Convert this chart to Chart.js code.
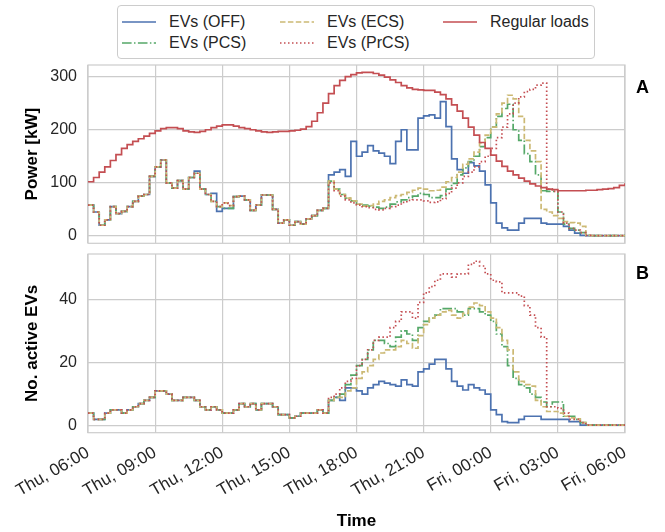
<!DOCTYPE html>
<html>
<head>
<meta charset="utf-8">
<script src="https://cdn.jsdelivr.net/npm/chart.js@4.4.0/dist/chart.umd.min.js"></script>
<style>
  html, body { margin: 0; padding: 0; background: #fff; }
  body { width: 665px; height: 532px; position: relative; overflow: hidden;
         font-family: "Liberation Sans", Arial, sans-serif; color: #262626; }
  #topChart, #bottomChart { position: absolute; left: 0; }
  #topChart { top: 0; }
  #bottomChart { top: 250px; }
  .legend { position: absolute; left: 117px; top: 5px; width: 476px; height: 52px;
            border: 1px solid #cccccc; border-radius: 4px; background: #fff; }
  .item { position: absolute; font-size: 16px; line-height: 20px; white-space: nowrap; }
  .item svg { position: absolute; left: 0; top: 8px; }
  .item span { position: absolute; left: 47px; top: 0; }
  .panel { position: absolute; left: 636px; font-weight: bold; font-size: 18px; line-height: 20px; color: #000; }
</style>
</head>
<body>
<canvas id="topChart" width="665" height="250"></canvas>
<canvas id="bottomChart" width="665" height="282"></canvas>

<div class="legend">
  <div class="item" style="left:4px; top:6px;">
    <svg width="34" height="4"><line x1="0" y1="2" x2="34" y2="2" stroke="#4C72B0" stroke-width="1.7"/></svg>
    <span>EVs (OFF)</span>
  </div>
  <div class="item" style="left:4px; top:27px;">
    <svg width="34" height="4"><line x1="0" y1="2" x2="34" y2="2" stroke="#55A868" stroke-width="1.7" stroke-dasharray="9.6 2.4 1.5 2.4"/></svg>
    <span>EVs (PCS)</span>
  </div>
  <div class="item" style="left:162px; top:6px;">
    <svg width="34" height="4"><line x1="0" y1="2" x2="34" y2="2" stroke="#CCB974" stroke-width="1.7" stroke-dasharray="5.5 2.4"/></svg>
    <span>EVs (ECS)</span>
  </div>
  <div class="item" style="left:162px; top:27px;">
    <svg width="34" height="4"><line x1="0" y1="2" x2="34" y2="2" stroke="#C44E52" stroke-width="1.7" stroke-dasharray="1.5 2.5"/></svg>
    <span>EVs (PrCS)</span>
  </div>
  <div class="item" style="left:325px; top:6px;">
    <svg width="34" height="4"><line x1="0" y1="2" x2="34" y2="2" stroke="#C44E52" stroke-width="1.7"/></svg>
    <span>Regular loads</span>
  </div>
</div>

<div class="panel" style="top:77px;">A</div>
<div class="panel" style="top:263px;">B</div>

<script>
// 15-minute steps from Thu 06:00 (hour 0) to Fri 06:00 (hour 24)
const STEP_H = 0.25;

const timeLabels = ['Thu, 06:00', 'Thu, 09:00', 'Thu, 12:00', 'Thu, 15:00', 'Thu, 18:00',
                    'Thu, 21:00', 'Fri, 00:00', 'Fri, 03:00', 'Fri, 06:00'];
const tickHours = [0, 3, 6, 9, 12, 15, 18, 21, 24];
const powerTicks = [0, 100, 200, 300];
const evTicks = [0, 20, 40];

// Panel A: power [kW]
const powerOff = [
  58, 45, 20, 30, 55, 42, 46, 55, 65, 75, 78, 112,
  130, 143, 100, 90, 104, 88, 110, 122, 88, 78, 80, 46,
  52, 52, 74, 75, 68, 48, 58, 77, 77, 50, 24, 30,
  20, 27, 22, 32, 38, 48, 52, 115, 120, 125, 112, 178,
  150, 158, 170, 160, 156, 150, 136, 178, 200, 162, 162, 222,
  226, 228, 222, 253, 206, 145, 125, 118, 138, 132, 122, 96,
  62, 24, 15, 11, 11, 24, 33, 33, 33, 24, 22, 22,
  22, 18, 11, 5, 1, 0.5, 0.5, 0.5, 0.5, 0.5, 0.5, 0.5,
  0.5
];
const powerPcs = [
  58, 45, 20, 30, 55, 42, 46, 55, 65, 75, 78, 112,
  130, 143, 100, 90, 104, 88, 110, 118, 88, 78, 65, 55,
  52, 52, 74, 75, 68, 48, 58, 77, 77, 50, 24, 30,
  20, 27, 22, 32, 38, 48, 52, 103, 88, 78, 71, 66,
  60, 58, 56, 54, 52, 54, 60, 64, 68, 72, 75, 80,
  78, 72, 72, 76, 88, 99, 115, 128, 140, 150, 168, 185,
  205, 225, 240, 248, 200, 180, 155, 140, 115, 85, 84, 84,
  45, 22, 14, 11, 6, 1, 0.5, 0.5, 0.5, 0.5, 0.5, 0.5,
  0.5
];
const powerEcs = [
  58, 45, 20, 30, 55, 42, 46, 55, 65, 75, 78, 112,
  130, 143, 100, 90, 104, 88, 110, 118, 88, 78, 65, 55,
  62, 57, 74, 75, 68, 48, 58, 77, 77, 50, 24, 30,
  20, 27, 22, 32, 38, 48, 52, 103, 88, 78, 71, 66,
  60, 56, 57, 60, 65, 68, 72, 76, 78, 82, 86, 90,
  88, 85, 86, 92, 102, 110, 120, 135, 145, 158, 175, 190,
  205, 230, 250, 265, 258, 225, 180, 160, 140, 50, 45, 38,
  33, 27, 25, 24, 18, 1, 0.5, 0.5, 0.5, 0.5, 0.5, 0.5,
  0.5
];
const powerPrcs = [
  58, 45, 20, 30, 55, 42, 46, 55, 65, 75, 78, 112,
  130, 143, 100, 90, 104, 88, 110, 118, 88, 78, 65, 55,
  62, 57, 74, 75, 68, 48, 58, 77, 77, 50, 24, 30,
  20, 27, 22, 32, 38, 48, 52, 100, 85, 75, 68, 62,
  58, 55, 53, 50, 49, 52, 55, 58, 63, 67, 68, 68,
  66, 63, 64, 70, 80, 90, 100, 112, 120, 130, 140, 150,
  165, 185, 205, 230, 250, 262, 272, 276, 284, 288, 88, 84,
  45, 24, 14, 11, 6, 1, 0.5, 0.5, 0.5, 0.5, 0.5, 0.5,
  0.5
];
const regularLoads = [
  102, 110, 120, 130, 142, 153, 165, 172, 178, 183, 188, 193,
  198, 202, 204, 204, 202, 198, 196, 195, 197, 200, 204, 207,
  209, 209, 207, 204, 202, 200, 198, 196, 195, 196, 197, 197,
  198, 199, 201, 206, 216, 232, 250, 268, 283, 293, 300, 304,
  307, 308, 308, 306, 303, 299, 294, 289, 283, 279, 276, 275,
  274, 274, 271, 266, 258, 247, 235, 222, 205, 190, 176, 165,
  152, 141, 131, 122, 115, 109, 103, 98, 94, 91, 88, 87,
  85, 85, 85, 85, 85, 86, 86, 87, 88, 89, 91, 95,
  99
];

// Panel B: number of active EVs
const evsOff = [
  4, 2, 2, 4, 5, 5, 4, 5, 6, 7, 8, 9,
  11, 11, 10, 8, 8, 9, 9, 8, 6, 5, 6, 5,
  4, 4, 5, 7, 6, 7, 5, 7, 7, 6, 3.5, 3.5,
  2.5, 3, 4, 4, 4, 5, 4, 8, 9, 8, 12, 12,
  11, 10, 12, 13, 14, 13.5, 13, 12.5, 14.5, 13, 12.5, 17,
  18, 19.5, 21, 21, 18, 14, 12.5, 11.3, 13, 12, 11.3, 10,
  5, 3.5, 1.3, 1, 1, 2, 3, 3, 3, 2, 2, 2,
  2, 2, 1.3, 1.3, 0.2, 0.2, 0.2, 0.2, 0.2, 0.2, 0.2, 0.2,
  0.2
];
const evsPcs = [
  4, 2, 2, 4, 5, 5, 4, 5, 6, 7, 8, 9,
  11, 11, 10, 8, 8, 9, 9, 8, 6, 5, 6, 5,
  4, 4, 5, 7, 6, 7, 5, 7, 7, 6, 3.5, 3.5,
  2.5, 3, 4, 4, 4, 5, 4, 8, 9, 10, 13, 16,
  19, 21, 24, 27, 27, 26, 25, 28, 30, 29, 27, 31,
  33, 34, 35, 37, 37, 37, 36, 35, 37, 37, 36, 35,
  33, 29, 25, 19, 15, 13, 12, 10, 9, 7.5, 6, 7.5,
  7.5, 3, 3, 2, 1, 0.2, 0.2, 0.2, 0.2, 0.2, 0.2, 0.2,
  0.2
];
const evsEcs = [
  4, 2, 2, 4, 5, 5, 4, 5, 6, 7, 8, 9,
  11, 11, 10, 8, 8, 9, 9, 8, 6, 5, 6, 5,
  4, 4, 5, 7, 6, 7, 5, 7, 7, 6, 3.5, 3.5,
  2.5, 3, 4, 4, 4, 5, 4, 8, 9, 9, 11, 12,
  15, 17, 19, 21, 23, 24, 24, 25, 27, 26, 24.5, 28.5,
  32, 34, 35, 36, 36.5, 35, 34, 35.5, 37.5, 38.8, 38, 36,
  34, 31, 27, 24, 17, 14, 13, 12.5, 8, 6, 4.5, 4.5,
  4, 3, 2.5, 2.2, 1, 0.2, 0.2, 0.2, 0.2, 0.2, 0.2, 0.2,
  0.2
];
const evsPrcs = [
  4, 2, 2, 4, 5, 5, 4, 5, 6, 7, 8, 9,
  11, 11, 10, 8, 8, 9, 9, 8, 6, 5, 6, 5,
  4, 4, 5, 7, 6, 7, 5, 7, 7, 6, 3.5, 3.5,
  2.5, 3, 4, 4, 4, 5, 4, 9, 10, 12, 14, 15,
  19, 21, 24, 27, 28, 28, 31, 33, 36, 36, 34, 39,
  42, 44, 46, 48, 48, 47, 48, 48, 51, 52, 50.5, 48,
  46, 45.5, 42, 42, 42, 41, 38, 35, 31, 28, 6, 6,
  5.5, 4, 2, 2, 1, 0.2, 0.2, 0.2, 0.2, 0.2, 0.2, 0.2,
  0.2
];

const BLUE = '#4C72B0';
const GREEN = '#55A868';
const RED = '#C44E52';
const TAN = '#CCB974';
const GRID = '#cccccc';
const FONT = '"Liberation Sans", Arial, sans-serif';

Chart.defaults.font.family = FONT;
Chart.defaults.color = '#262626';

// Step line dataset, value i holds from hour i*STEP_H to the next step
const stepSet = (label, values, color, dash, order) => ({
    label: label,
    data: values.map((v, i) => ({ x: i * STEP_H, y: v })),
    borderColor: color,
    borderWidth: 1.7,
    borderDash: dash,
    pointRadius: 0,
    stepped: true,
    fill: false,
    order: order
});

// Light grey box round the plot area, like the seaborn whitegrid style
const framePlugin = {
    id: 'frame',
    beforeDatasetsDraw(chart) {
        const { ctx, chartArea: a } = chart;
        ctx.save();
        ctx.strokeStyle = GRID;
        ctx.lineWidth = 1.2;
        ctx.strokeRect(a.left, a.top, a.right - a.left, a.bottom - a.top);
        ctx.restore();
    }
};

const xScale = (showLabels) => ({
    type: 'linear',
    min: 0,
    max: 24,
    afterBuildTicks: (s) => { s.ticks = tickHours.map(v => ({ value: v })); },
    afterFit: (s) => {
        s.height = showLabels ? 99.3 : 0;
        s.paddingLeft = 0;
        s.paddingRight = 0;
    },
    grid: { color: GRID, lineWidth: 1.2, drawTicks: false },
    border: { display: false },
    ticks: {
        display: showLabels,
        autoSkip: false,
        minRotation: 30,
        maxRotation: 30,
        padding: 10,
        font: { size: 17 },
        callback: (v) => timeLabels[tickHours.indexOf(v)]
    },
    title: {
        display: showLabels,
        text: 'Time',
        color: '#000',
        font: { size: 17, weight: 'bold' },
        padding: { top: 0, bottom: 0 }
    }
});

const yScale = (min, max, ticks, title) => ({
    min: min,
    max: max,
    afterBuildTicks: (s) => { s.ticks = ticks.map(v => ({ value: v })); },
    afterFit: (s) => {
        s.width = 88;
        s.paddingTop = 0;
        s.paddingBottom = 0;
    },
    grid: { color: GRID, lineWidth: 1.2, drawTicks: false },
    border: { display: false },
    ticks: { padding: 11, font: { size: 16 } },
    title: {
        display: true,
        text: title,
        color: '#000',
        font: { size: 17, weight: 'bold' },
        padding: { top: 22, bottom: 0 }
    }
});

const baseOptions = (padding, x, y) => ({
    responsive: false,
    animation: false,
    devicePixelRatio: 1,
    layout: { padding: padding },
    plugins: { legend: { display: false }, tooltip: { enabled: false } },
    scales: { x: x, y: y }
});

new Chart(document.getElementById('topChart'), {
    type: 'line',
    data: {
        datasets: [
            stepSet('EVs (OFF)', powerOff, BLUE, [], 5),
            stepSet('EVs (PCS)', powerPcs, GREEN, [9.6, 2.4, 1.5, 2.4], 4),
            stepSet('EVs (ECS)', powerEcs, TAN, [5.5, 2.4], 3),
            stepSet('EVs (PrCS)', powerPrcs, RED, [1.5, 2.5], 2),
            stepSet('Regular loads', regularLoads, RED, [], 1)
        ]
    },
    options: baseOptions({ top: 65, right: 40, bottom: 6.7, left: 0 },
                         xScale(false), yScale(-14, 322, powerTicks, 'Power [kW]')),
    plugins: [framePlugin]
});

new Chart(document.getElementById('bottomChart'), {
    type: 'line',
    data: {
        datasets: [
            stepSet('EVs (OFF)', evsOff, BLUE, [], 5),
            stepSet('EVs (PCS)', evsPcs, GREEN, [9.6, 2.4, 1.5, 2.4], 4),
            stepSet('EVs (ECS)', evsEcs, TAN, [5.5, 2.4], 3),
            stepSet('EVs (PrCS)', evsPrcs, RED, [1.5, 2.5], 2)
        ]
    },
    options: baseOptions({ top: 4, right: 40, bottom: 0, left: 0 },
                         xScale(true), yScale(-2.2, 54.3, evTicks, 'No. active EVs')),
    plugins: [framePlugin]
});
</script>
</body>
</html>
